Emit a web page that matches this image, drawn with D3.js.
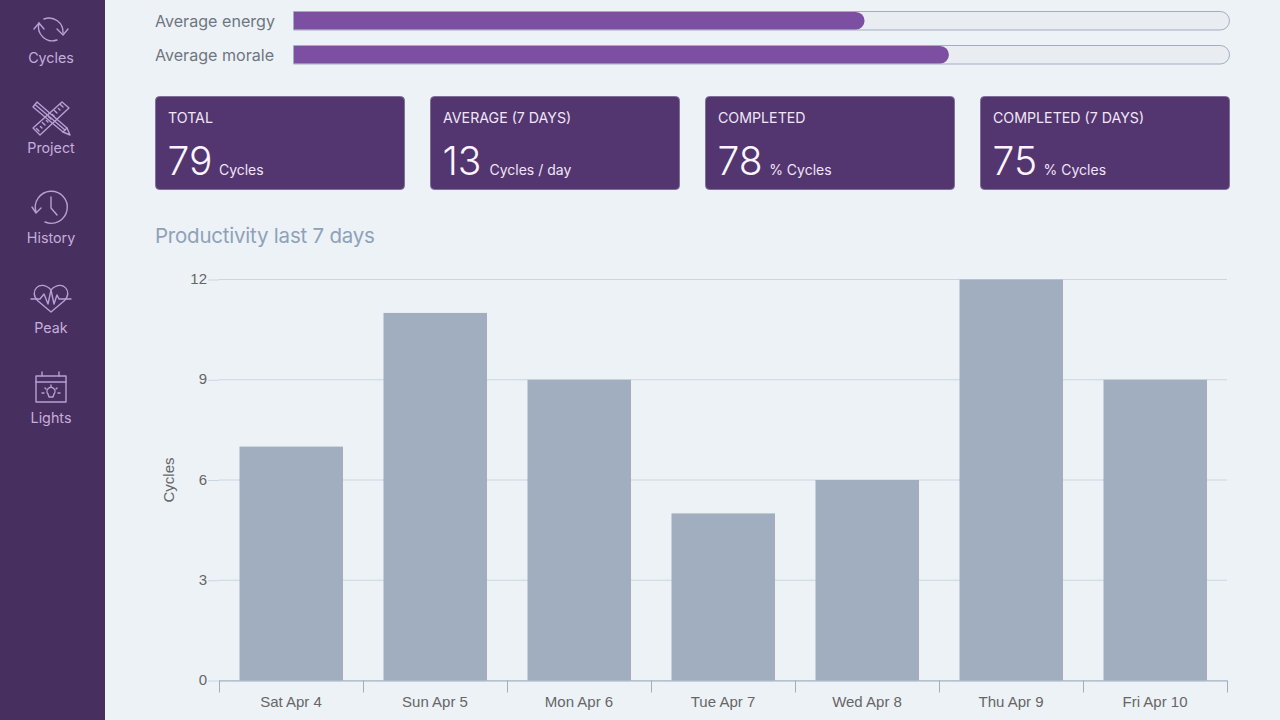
<!DOCTYPE html>
<html><head><meta charset="utf-8">
<script src="https://cdn.jsdelivr.net/npm/d3@7"></script>
<style>html,body{margin:0;padding:0;background:#edf2f7;overflow:hidden}svg{display:block}</style>
</head><body><svg id="c" width="1280" height="720"></svg>
<script>
const days = ["Sat Apr 4","Sun Apr 5","Mon Apr 6","Tue Apr 7","Wed Apr 8","Thu Apr 9","Fri Apr 10"];
const cycles = [7,11,9,5,6,12,9];
const yTicks = [0,3,6,9,12];
const barLabels = ["Average energy","Average morale"];
const barValues = [61,70];
const cardTitles = ["TOTAL","AVERAGE (7 DAYS)","COMPLETED","COMPLETED (7 DAYS)"];
const cardValues = ["79","13","78","75"];
const cardUnits = ["Cycles","Cycles / day","% Cycles","% Cycles"];
const navLabels = ["Cycles","Project","History","Peak","Lights"];
const UI = "Inter, 'Noto Sans', sans-serif", CH = "'Liberation Sans', Arial, sans-serif";

const svg = d3.select("#c");
svg.append("rect").attr("width",1280).attr("height",720).attr("fill","#edf2f7");

// ---- sidebar
svg.append("rect").attr("width",105).attr("height",720).attr("fill","#472f60");
const iconC = "#b9a0d2", labelC = "#c5aedb";
const nav = svg.append("g").selectAll("g").data(navLabels).join("g")
  .attr("transform",(d,i)=>`translate(51,${28+i*90})`);
nav.append("text").text(d=>d).attr("y",35).attr("text-anchor","middle")
  .attr("font-family",UI).attr("font-size",14.3).attr("fill",labelC);
const rulerTicks = d3.range(0,9).map(k=>{
  const cx=12-k*3, cy=-11+k*3, l=k%2?1.6:2.6;
  return `M${cx} ${cy}l${-l} ${-l}`;}).join("");
const icons = [
 ["M-7 -9A14 14 0 0 1 12 5","M6 1L12 7L17 1","M-12 -5A14 14 0 0 0 6 12","M-17 1L-12 -5L-7 1"],
 ["M-14 -16L-18 -11L12 14L19 17L16 10Z","M-16 -13.5L14 12","M11 -16L18 -10L-11 17L-18 10Z",rulerTicks,"M12 14L16 10"],
 ["M-15 4A16 16 0 1 1 -6 14","M-19 -1L-15 5L-10 0","M0 -11V0L6 7"],
 ["M0 14L-13 3C-23 -6 -11 -20 0 -8C11 -20 23 -6 13 3Z","M-20 1H-11L-7 -4L-3 6L0 -8L3 6L6 -3L8 1H20"],
 ["M-15 -12H15V14H-15Z","M-15 -6H15","M-9 -16V-12","M8 -16V-12","M-3 6A4 4 0 1 1 3 6L2 9H-2Z","M-9 5H-7","M7 5H9","M-6 0L-5 1","M6 0L5 1","M0 -3V-1"]
];
nav.each(function(d,i){
  d3.select(this).append("g").selectAll("path").data(icons[i]).join("path").attr("d",p=>p)
    .attr("fill","none").attr("stroke",iconC).attr("stroke-width",1.4)
    .attr("stroke-linejoin","round").attr("stroke-linecap","round");
});

// ---- progress bars
const px = d3.scaleLinear().domain([0,100]).range([293,1230]);
const py = d3.scaleBand().domain(barLabels).range([11.5,64]).paddingInner(0.456);
const bh = py.bandwidth();
const pg = svg.append("g").selectAll("g").data(barLabels).join("g");
pg.append("text").text(d=>d).attr("x",155).attr("y",d=>py(d)+bh/2+6)
  .attr("font-family",UI).attr("font-size",16.1).attr("fill","#6f7680");
pg.append("path").attr("fill","#e9ecf0").attr("stroke","#a0aec0").attr("stroke-width",1).attr("d",d=>{
  const x0=px(0)+.5,x1=px(100)-.5,y0=py(d),r=bh/2;
  return `M${x0} ${y0}H${x1-r}A${r} ${r} 0 0 1 ${x1-r} ${y0+bh}H${x0}Z`;});
pg.append("path").attr("fill","#7c4fa3").attr("d",(d,i)=>{
  const x0=px(0)+1,x1=px(barValues[i]),y0=py(d)+.5,h=bh-1,r=h/2;
  return `M${x0} ${y0}H${x1-r}A${r} ${r} 0 0 1 ${x1-r} ${y0+h}H${x0}Z`;});

// ---- cards
const cx = d3.scaleBand().domain(cardTitles).range([155,1230]).paddingInner(25/275);
const cards = svg.append("g").selectAll("g").data(cardTitles).join("g")
  .attr("transform",d=>`translate(${cx(d)},96)`);
cards.append("rect").attr("x",.5).attr("y",.5).attr("width",cx.bandwidth()-1).attr("height",93)
  .attr("rx",4).attr("fill","#53356f").attr("stroke","#7f7099").attr("stroke-width",1);
cards.append("text").text(d=>d).attr("x",13).attr("y",27).attr("font-family",UI).attr("font-size",14.2).attr("fill","#f0e6f8");
const vals = cards.append("text").attr("x",12.5).attr("y",79).attr("font-family",UI).attr("fill","#faf5ff");
vals.append("tspan").text((d,i)=>cardValues[i]).attr("font-size",39).attr("font-weight",300);
vals.append("tspan").text((d,i)=>cardUnits[i]).attr("dx",(d,i)=>i===1?8:6.5).attr("font-size",14).attr("fill","#f0e6f8");

// ---- chart
svg.append("text").text("Productivity last 7 days").attr("x",155).attr("y",243)
  .attr("font-family",UI).attr("font-size",20.5).attr("letter-spacing",-0.22).attr("fill","#8fa1b8");
const x = d3.scaleBand().domain(days).range([219,1227]).paddingInner(40/144).paddingOuter(20/144);
const y = d3.scaleLinear().domain([0,12]).range([680.5,279.5]);
svg.append("g").selectAll("line").data(yTicks).join("line")
  .attr("x1",219).attr("x2",1227).attr("y1",d=>y(d)).attr("y2",d=>y(d))
  .attr("stroke","#cbd5e0").attr("stroke-width",1);
svg.append("g").selectAll("rect").data(days).join("rect")
  .attr("x",d=>x(d)+.5).attr("width",x.bandwidth()-.5)
  .attr("y",(d,i)=>y(cycles[i])).attr("height",(d,i)=>y(0)-y(cycles[i])).attr("fill","#a0aec0");

const ay = svg.append("g").attr("transform","translate(219,0)")
  .call(d3.axisLeft(y).tickValues(yTicks).tickSize(11).tickPadding(1));
ay.select(".domain").remove();
ay.selectAll("line").attr("stroke","#cbd5e0");
ay.selectAll("text").attr("font-family",CH).attr("font-size",15).attr("fill","#666").attr("y",-0.8);

const ax = svg.append("g").attr("transform","translate(0,680.5)")
  .call(d3.axisBottom(x).tickSize(0).tickPadding(16));
ax.select(".domain").attr("stroke","#a0aec0");
ax.selectAll("text").attr("font-family",CH).attr("font-size",15).attr("fill","#666");
const edges = days.map(d=>x(d)-x.step()*20/144).concat([1227]);
ax.append("g").selectAll("line").data(edges).join("line")
  .attr("x1",d=>d+.5).attr("x2",d=>d+.5).attr("y1",0).attr("y2",12).attr("stroke","#a0aec0");

svg.append("text").text("Cycles").attr("transform","translate(174,480) rotate(-90)").attr("text-anchor","middle")
  .attr("font-family",CH).attr("font-size",15).attr("fill","#666");
</script></body></html>
